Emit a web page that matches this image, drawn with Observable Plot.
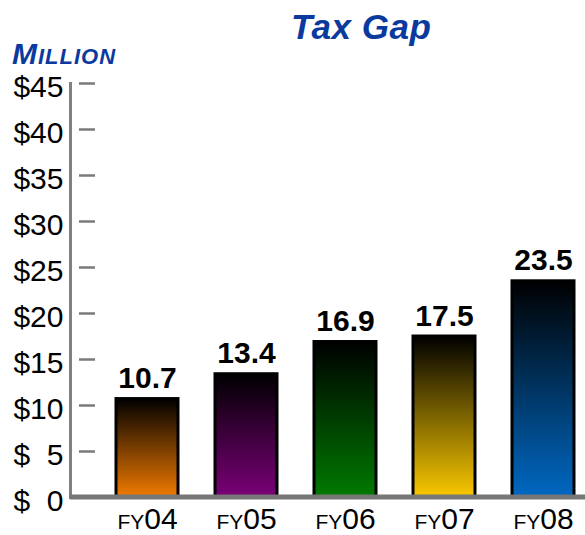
<!DOCTYPE html>
<html>
<head>
<meta charset="utf-8">
<script src="https://cdn.jsdelivr.net/npm/d3@7"></script>
<script src="https://cdn.jsdelivr.net/npm/@observablehq/plot@0.6"></script>
<style>
  html, body { margin: 0; padding: 0; background: white; }
  #wrap { position: relative; width: 585px; height: 535px; overflow: hidden; }
  #wrap svg { display: block; position: absolute; left: 0; top: 0; }
  .title { position: absolute; left: 291px; top: 9px; font: italic bold 35px "Liberation Sans", Arial, sans-serif; color: #0b3a9e; line-height: 1; white-space: nowrap; letter-spacing: 0.5px; }
  .unit { position: absolute; left: 12px; top: 39px; font: italic bold 30px "Liberation Sans", Arial, sans-serif; color: #0b3a9e; line-height: 1; white-space: nowrap; letter-spacing: 1px; }
  .unit span { font-size: 22px; }
</style>
</head>
<body>
<div id="wrap">
  <div class="title">Tax Gap</div>
  <div class="unit">M<span>ILLION</span></div>
</div>
<script>
const categories = ["FY04", "FY05", "FY06", "FY07", "FY08"];
const values = [10.7, 13.4, 16.9, 17.5, 23.5];
const barColors = ["#f07a00", "#7a0078", "#007a00", "#fac800", "#0068c2"];
const yTicks = [0, 5, 10, 15, 20, 25, 30, 35, 40, 45];

const data = categories.map((c, i) => ({cat: c, value: values[i], color: barColors[i], id: "grad" + i}));

const gradients = () => {
  const defs = d3.create("svg:defs");
  data.forEach(d => {
    const g = defs.append("linearGradient").attr("id", d.id)
      .attr("x1", 0).attr("y1", 0).attr("x2", 0).attr("y2", 1);
    g.append("stop").attr("offset", "0%").attr("stop-color", "#000000");
    g.append("stop").attr("offset", "100%").attr("stop-color", d.color);
  });
  return defs.node();
};

const chart = Plot.plot({
  width: 585,
  height: 535,
  marginTop: 83,
  marginBottom: 38,
  marginLeft: 70,
  marginRight: 0,
  style: {fontFamily: "'Liberation Sans', Arial, sans-serif", fontSize: "29px", background: "transparent", color: "black"},
  x: {domain: categories, paddingInner: 0.376, paddingOuter: 0.281, align: 0.797, label: null},
  y: {domain: [0, 45], label: null},
  color: {type: "identity"},
  marks: [
    gradients,
    Plot.frame({anchor: "left", stroke: "#808080", strokeWidth: 3}),
    Plot.axisY(yTicks, {tickSize: 16, dx: 25, stroke: "#7a7a7a", strokeWidth: 2.5, fill: "none", label: null}),
    Plot.axisY(yTicks, {tickSize: 0, tickPadding: 7, dy: 4, fontSize: 30, fill: "black",
      tickFormat: d => d < 10 ? "$\u2007" + d : "$" + d, label: null}),
    Plot.axisX({tickSize: 0, tickPadding: 10, fontSize: 30, fill: "black", label: null}),
    Plot.barY(data, {x: "cat", y: "value", fill: d => `url(#${d.id})`, stroke: "black", strokeWidth: 3}),
    Plot.ruleY([0], {stroke: "#777777", strokeWidth: 5, dy: -0.5}),
    Plot.text(data, {x: "cat", y: "value", text: d => d.value.toFixed(1), lineAnchor: "bottom", dy: -11,
      fontSize: 30, fontWeight: "bold", fill: "black"})
  ]
});

d3.select(chart).selectAll('g[aria-label="x-axis tick label"] text').each(function () {
  const t = this.textContent;
  const s = d3.select(this);
  s.text(null);
  s.append("tspan").attr("font-size", 21).text(t.slice(0, 2));
  s.append("tspan").text(t.slice(2));
});

const wrap = document.getElementById("wrap");
wrap.insertBefore(chart, wrap.firstChild);
</script>
</body>
</html>
